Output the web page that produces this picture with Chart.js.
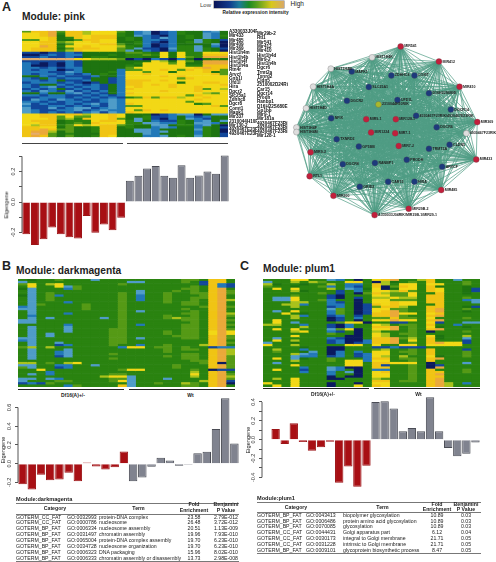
<!DOCTYPE html>
<html>
<head>
<meta charset="utf-8">
<title>Modules</title>
<script src="https://cdn.jsdelivr.net/npm/chart.js@4/dist/chart.umd.js"></script>
<style>
  body { margin: 0; background: #fff; font-family: "Liberation Sans", Arial, sans-serif; color: #222; }
  #page { position: relative; width: 496px; height: 562px; overflow: hidden; }
  canvas, .t, .rule { position: absolute; }
  .t { white-space: nowrap; line-height: 1; }
  .heat { filter: blur(0.35px); }
</style>
</head>
<body>
<div id="page"></div>
<script>
// sample groups, same for the three modules
const samples = ['D1','D2','D3','D4','D5','D6','D7','D8','D9','D10','D11','D12','W1','W2','W3','W4','W5','W6','W7','W8','W9','W10','W11','W12']

// eigengene per sample
const pinkEigen = [-0.212,-0.283,-0.244,-0.168,-0.212,-0.232,-0.24,-0.091,-0.202,-0.147,-0.186,-0.103,0.139,0.172,0.22,0.236,0.172,0.16,0.242,0.16,0.174,0.2,0.186,0.305]
const magentaEigen = [-0.22,-0.277,-0.118,-0.177,-0.17,-0.098,-0.187,0.013,-0.03,-0.062,-0.039,0.131,-0.187,-0.148,-0.033,0.062,0.033,-0.023,-0.013,0.111,0.128,0.37,0.7,0.216]
const plumEigen = [-0.006,0.113,-0.045,0.175,-0.026,-0.117,-0.081,-0.023,-0.457,-0.285,-0.5,-0.276,0.4,0.408,0.33,0.09,0.123,0.088,0.45,0.09,-0.088,-0.175,-0.149,-0.03]

// heatmap levels, one character per sample: 0 navy ... 5 green ... 8 yellow ... b tan
const levelColors = { 0:'#0b1a5e', 1:'#12479a', 2:'#2278b8', 3:'#4f9cc8', 4:'#1e7410', 5:'#2a8310', 6:'#559a16', 7:'#a9c21c', 8:'#f2d816', 9:'#f0c414', a:'#eaa93a', b:'#e4ac6e' }

const pinkRows = [
'699a69 978886 423012 544234','889a59 978885 423012 544324','889a49 989995 432102 454325','888945 989994 542132 454324','668944 699884 542212 443541',
'889967 889884 452102 453540','889946 888996 452012 444430','88a958 898887 542012 553420','899946 999886 531103 553541','899957 988886 342102 553540',
'110112 144444 665484 855888','001212 244454 556584 855999','112112 145544 554484 865aaa','bbbbbb 887776 010210 240454','111112 144444 444874 864aaa',
'210102 144444 458886 844aaa','200102 144444 548888 855999','221212 244444 688888 889a99','212201 244442 668898 698996','222113 244452 886884 888946',
'212212 124542 889888 888896','442121 112442 888898 988888','214212 214412 888888 698888','221241 124412 999898 888888','122212 101412 998888 488998',
'214421 212142 998989 888889','212312 122142 898889 889888','121241 212142 988888 889687','213213 121242 888898 889888','442442 312142 988888 888768',
'221221 121212 888888 869888','112221 212121 569699 788988','132132 121232 888888 889888','221212 211232 888888 868888','312112 123132 988888 885688',
'211221 212132 668888 888896','311312 331232 888888 888888','321122 312322 869898 888888','321212 123132 988888 888888','889989 978898 444012 330433',
'889968 668898 445112 421244','888967 598896 435102 432144','899945 558998 534211 542343','889945 659888 553322 543324','879956 878996 544334 552340',
'998846 445994 544232 442541','99a966 445994 433244 443540','9aa746 445994 433234 442540','9ba645 444994 443244 442541','9a9646 445984 442234 543541'
]
const magentaRows = [
'545565 553555 555555 665995','355555 555555 335555 651995','685785 555556 555555 551921','585583 655555 555555 565921','435552 655555 555555 6659a5','535555 555555 535556 5659a6',
'535655 555556 535565 5669a6','435625 555556 525565 5569a5','535655 555556 525565 5669a5','535655 555556 525565 5659a7','535552 555556 555565 6659a5','536555 565556 555555 6659a5',
'235555 565556 555555 5569a6','335555 565556 555555 6559a5','535555 555556 535555 5659a5','535552 555556 555555 6659a7','525555 555556 555565 5659a6','535355 555356 555567 6659a5',
'335555 555556 555555 6659a6','335555 555556 555555 5659a5','555552 555556 525555 6659a6','535553 555556 555555 6659a5','535553 555566 555555 6659a6','535553 555566 555565 6658a8',
'535355 555566 555565 6658a8','535355 555566 555556 6659a6','335555 555566 535555 6659a6','235555 555566 555555 5559a5','535535 555566 555555 5559a6','535512 555565 525565 5579a5',
'675755 555552 885665 655122','535553 555555 555565 6659a7','535523 555555 555565 5559a7','535523 555565 555555 6659a7','535513 555555 555565 6659a6','535555 555565 555555 6659a6',
'555555 555555 555555 5669a6','775657 855555 555555 556906','335522 553555 555556 5559a6','635512 555555 555556 5559a6','558555 555556 885555 565011','555255 555555 555555 5759a5',
'535255 555566 555555 5859a6','555555 555788 355555 5759a7','335325 555566 355535 5559a6','355566 555568 355555 5579a1','121655 555555 355655 7659a0','555552 655559 355555 6659a5'
]
const plumRows = [
'555885 532505 89a557 955355','355757 655885 074565 955565','745545 575225 975885 885565','655455 625215 906985 945545','585855 575324 804885 985541','555745 551525 887965 985541',
'555555 651506 976685 595545','555655 510555 886685 995555','533855 510515 778775 995565','533855 625505 886665 995523','555775 521505 889885 995553','557725 522501 989885 595555',
'555755 512501 699755 995541','555555 536501 886655 9a5565','535855 526501 89a655 9a5545','558545 526501 99a885 895555','555725 512515 99a655 9a5555','555755 501525 669665 855565',
'585555 501505 88a885 9a5555','585355 556880 551155 815533','775525 510255 875665 955255','555575 510255 99a565 845545','585855 536805 88a565 9a5555','555785 521505 755565 055565',
'555555 565505 875665 555555','555855 555005 875565 845575','535555 521005 99a675 945535','585755 512002 99a585 955515','355455 512012 99a565 9a8815','855755 555885 855885 888855',
'555545 500555 112111 555555','575525 500555 675565 955515','565543 502525 885665 955565','555732 502512 885565 955565','555322 512512 875755 845565','585345 565552 995665 9a5555',
'555755 565882 885565 955555','535555 555885 998885 055535','555855 555885 915565 015555','555525 532005 995565 0a5555','585515 532505 225565 955565','555525 525305 895565 995565',
'555555 525505 885565 9a5555','555555 505005 885565 995555','575855 500555 765565 9a5555','555855 555555 995665 9a5555','855855 505505 885555 9a7525','585855 505585 985555 9a7555'
]

const pinkGenesLeft = ['A330033J04Rik','Mir433','Mir485','Mir409','Mir369','Hist1h4m','Hist1h4b','Hist1h4f','Hist1h4a','Rtn4r','Arvcf','Gnb1l','Ufd1l','Hira','Dgcr2','Slc25a1','Zdhhc8','Dgcr8','Comt1','Mapk1','Mir337','2310044H10Rik','Mir130-2','4930467E23Rik','4930467E23Rik']
const pinkGenesRight = ['Mir29b-2','Rtl1','Mir541','Mir412','Mir410','Hist1h4d','Mir9-2','Hist1h4h','Dgcr6','Trmt2a','Txnrd2','Cldn5','2510002D24Rik','Car15','Dgcr14','Prodh','Ranbp1','D16H22S680E','Gp1bb','Mir9-1','Mir181a','4930467F23Rik','4930467F23Rik','4930467F23Rik','Mir128-1']

// network layout units, kind: r red, b blue, w white, g green
const netNames = ['MIR541','MIR412','MIR410','MIR369','MIR433','MIR485','MIR29B-2','A330033J04RIK/MIR29B-1/MIR29-1','MIR300','RTL1','MIR9-2','HIST1H4K','HIST1H4B','HIST1H4A','HIST1H4D','HIST1H4F','HIST1H4M','4930467F23RIK','MIR9-1','MIR128-1','MIR1224','MIR7-1','MIR7-2','2310044H10RIK','MAPK1','ZDHHC8','COMT','SLC25A1','D16H22S680E','DGCR2','UFD1L','DGCR14','4930467F23RIK/4930467E23RIK','NFIX','DGCR6','TXNRD2','GP1BB','TRMT2A','CLDN5','DGCR8','RANBP1','PRODH','ARVCF','CAR15','HIRA','GRID2']
const netX = [455,574,638,693,690,581,480,374,246,172,175,366,238,183,161,131,131,659,348,440,363,438,449,386,303,426,498,356,543,288,445,611,503,239,567,256,325,543,607,275,375,474,584,416,498,328]
const netY = [131,178,256,366,482,577,635,655,595,534,460,165,200,256,323,383,397,401,357,357,398,401,440,311,209,221,221,257,276,300,297,327,346,354,382,419,442,449,436,497,493,483,505,551,551,567]
const netKinds = 'rrrrrrrrrrrwwwwwwwrrrrrgbbbbbbbbbbbbbbbbbbbbbb'

// functional annotation tables
const magentaTable = [
  ['GOTERM_CC_FAT','GO:0032993','protein-DNA complex','23.58','2.79E-012'],
  ['GOTERM_CC_FAT','GO:0000786','nucleosome','26.48','3.72E-012'],
  ['GOTERM_BP_FAT','GO:0006334','nucleosome assembly','20.51','1.13E-009'],
  ['GOTERM_BP_FAT','GO:0031497','chromatin assembly','19.96','7.93E-010'],
  ['GOTERM_BP_FAT','GO:0065004','protein-DNA complex assembly','19.70','6.23E-010'],
  ['GOTERM_BP_FAT','GO:0034728','nucleosome organization','19.70','6.23E-010'],
  ['GOTERM_BP_FAT','GO:0006323','DNA packaging','15.96','8.02E-010'],
  ['GOTERM_BP_FAT','GO:0006333','chromatin assembly or disassembly','13.73','2.98E-008']
]
const plumTable = [
  ['GOTERM_BP_FAT','GO:0043413','biopolymer glycosylation','10.89','0.03'],
  ['GOTERM_BP_FAT','GO:0006486','protein amino acid glycosylation','10.89','0.03'],
  ['GOTERM_BP_FAT','GO:0070085','glycosylation','10.89','0.03'],
  ['GOTERM_CC_FAT','GO:0044431','Golgi apparatus part','6.12','0.04'],
  ['GOTERM_CC_FAT','GO:0030173','integral to Golgi membrane','21.71','0.05'],
  ['GOTERM_CC_FAT','GO:0031228','intrinsic to Golgi membrane','21.71','0.05'],
  ['GOTERM_BP_FAT','GO:0009101','glycoprotein biosynthetic process','8.47','0.05']
]

const page = document.getElementById('page')

function text(str, x, y, size, opts) {
  const el = document.createElement('div')
  el.className = 't'
  el.textContent = str
  el.style.left = x + 'px'
  el.style.top = y + 'px'
  el.style.fontSize = size + 'px'
  if (opts) Object.assign(el.style, opts)
  page.appendChild(el)
  return el
}

function rule(x1, x2, y, h, color) {
  const el = document.createElement('div')
  el.className = 'rule'
  el.style.cssText = 'left:' + x1 + 'px;top:' + y + 'px;width:' + (x2 - x1) + 'px;height:' + h + 'px;background:' + color
  page.appendChild(el)
}

function addCanvas(x, y, w, h, cls) {
  const c = document.createElement('canvas')
  c.width = w
  c.height = h
  c.style.cssText = 'left:' + x + 'px;top:' + y + 'px;width:' + w + 'px;height:' + h + 'px'
  if (cls) c.className = cls
  page.appendChild(c)
  return c
}

// heatmap = horizontal stacked bars, one dataset per sample column
function heatmap(x, y, plotW, h, rows, extraW, genes) {
  const cells = rows.map(r => r.replace(/ /g, ''))
  const scales = {
    x: { stacked: true, display: false, min: 0, max: samples.length },
    y: { stacked: true, display: false, grid: { display: false } }
  }
  if (genes) {
    const tickFont = { family: 'Liberation Sans', size: 4.6, weight: 'bold' }
    scales.y = {
      stacked: true, position: 'right',
      grid: { display: false, drawTicks: false }, border: { display: false },
      afterFit: s => { s.width = 29 },
      ticks: { autoSkip: false, padding: 1, color: '#111', font: tickFont, callback: (v, i) => i % 2 ? '' : genes[i] }
    }
    scales.y2 = {
      type: 'category', labels: genes, offset: true, position: 'right',
      grid: { display: false, drawTicks: false }, border: { display: false },
      afterFit: s => { s.width = extraW - 29 },
      ticks: { autoSkip: false, padding: 0, color: '#111', font: tickFont, callback: (v, i) => i % 2 ? genes[i] : '' }
    }
  }
  new Chart(addCanvas(x, y, plotW + extraW, h, 'heat'), {
    type: 'bar',
    data: {
      labels: genes || cells.map((r, i) => 'row' + i),
      datasets: samples.map((s, c) => ({
        label: s,
        data: cells.map(() => 1),
        backgroundColor: cells.map(r => levelColors[r[c]]),
        borderWidth: 0,
        barPercentage: 1,
        categoryPercentage: 1
      }))
    },
    options: {
      indexAxis: 'y',
      responsive: false,
      animation: false,
      layout: { padding: 0 },
      plugins: { legend: { display: false }, tooltip: { enabled: false } },
      scales
    }
  })
}

// R style axis line that stops at the outer ticks
const axisLine = {
  id: 'axisLine',
  afterDraw(chart) {
    const s = chart.scales.y
    const t = s.ticks
    const ctx = chart.ctx
    ctx.save()
    ctx.strokeStyle = '#555'
    ctx.lineWidth = 1
    ctx.beginPath()
    ctx.moveTo(s.right, s.getPixelForValue(t[0].value))
    ctx.lineTo(s.right, s.getPixelForValue(t[t.length - 1].value))
    ctx.stroke()
    ctx.restore()
  }
}

function eigenBars(x, y, w, h, axisW, values, min, max, tickVals, labelled) {
  new Chart(addCanvas(x, y, w, h), {
    type: 'bar',
    data: {
      labels: samples,
      datasets: [{
        data: values,
        backgroundColor: samples.map((s, i) => i < 12 ? '#a80f14' : '#80838f'),
        borderColor: samples.map((s, i) => i < 12 ? '#9c1417' : '#4a4c55'),
        borderWidth: 1,
        barPercentage: 0.92,
        categoryPercentage: 1
      }]
    },
    plugins: [axisLine],
    options: {
      responsive: false,
      animation: false,
      layout: { padding: 0 },
      plugins: { legend: { display: false }, tooltip: { enabled: false } },
      scales: {
        x: { display: false },
        y: {
          min, max,
          afterFit: s => { s.width = axisW },
          afterBuildTicks: s => { s.ticks = tickVals.map(v => ({ value: v })) },
          grid: { drawOnChartArea: false, drawTicks: true, tickLength: 3, color: '#555' },
          border: { display: false },
          title: { display: false },
          ticks: {
            autoSkip: false, minRotation: 90, maxRotation: 90, crossAlign: 'center', padding: 1,
            color: '#333', font: { family: 'Liberation Sans', size: 5.5 },
            callback: v => labelled.includes(v) ? v.toFixed(1) : ''
          }
        }
      }
    }
  })
}

function network(x, y, w, h) {
  const nodes = netX.map((nx, i) => ({ x: nx, y: netY[i] }))
  const edges = []
  nodes.forEach((a, i) => nodes.slice(i + 1).forEach(b => edges.push(a, b, { x: NaN, y: NaN })))
  const kindColor = { r: '#c21f3c', b: '#1d3a7c', w: '#dedede', g: '#a8b82c' }
  const nodeText = {
    id: 'nodeText',
    afterDatasetsDraw(chart) {
      const ctx = chart.ctx
      ctx.save()
      ctx.font = 'bold 3.6px "Liberation Sans"'
      ctx.fillStyle = '#222'
      ctx.textBaseline = 'middle'
      chart.getDatasetMeta(1).data.forEach((p, i) => ctx.fillText(netNames[i], p.x + 3.5, p.y))
      ctx.restore()
    }
  }
  new Chart(addCanvas(x, y, w, h, 'heat'), {
    type: 'scatter',
    data: {
      datasets: [
        { data: edges, order: 2, showLine: true, pointRadius: 0, borderColor: '#4f9c84', borderWidth: 0.7, spanGaps: false },
        { data: nodes, order: 1, pointRadius: 3, pointBorderWidth: 0.3, pointBorderColor: '#555', pointBackgroundColor: nodes.map((n, i) => kindColor[netKinds[i]]) }
      ]
    },
    plugins: [nodeText],
    options: {
      responsive: false,
      animation: false,
      layout: { padding: 0 },
      plugins: { legend: { display: false }, tooltip: { enabled: false } },
      scales: {
        x: { display: false, min: 0, max: 738 },
        y: { display: false, min: 0, max: 750, reverse: true }
      }
    }
  })
}

function annotTable(rows, title, x, titleY, top, headBottom, firstRow, step, bottom, right, cols) {
  text(title, x, titleY - 3, 5.6, { fontWeight: 'bold' })
  rule(x, right, top, 1, '#777')
  rule(x, right, headBottom, 1, '#777')
  rule(x, right, bottom, 1, '#777')
  const head = { fontWeight: 'bold', transform: 'translateX(-50%)', textAlign: 'center' }
  text('Category', cols[0] + 39, top + 3.2, 5.2, head)
  text('Term', cols[2] + 39.5, top + 3.2, 5.2, head)
  text('Fold', cols[3], top - 0.1, 5.2, head)
  text('Enrichment', cols[3], top + 5.4, 5.2, head)
  text('Benjamini', cols[4], top - 0.1, 5.2, head)
  text('P Value', cols[4], top + 5.4, 5.2, head)
  const mid = { transform: 'translateX(-50%)' }
  rows.forEach((r, i) => {
    const ty = firstRow + i * step - 2.2
    text(r[0], cols[0], ty, 5.2)
    text(r[1], cols[1], ty, 5.2)
    text(r[2], cols[2], ty, 5.2)
    text(r[3], cols[3], ty, 5.2, mid)
    text(r[4], cols[4], ty, 5.2, mid)
  })
}

// panel letters and titles
text('A', 2, 1, 12.5, { fontWeight: 'bold' })
text('B', 2, 260, 12.5, { fontWeight: 'bold' })
text('C', 240, 260, 12.5, { fontWeight: 'bold' })
text('Module: pink', 22, 11.5, 10.2, { fontWeight: 'bold' })
text('Module: darkmagenta', 16, 265.5, 10.2, { fontWeight: 'bold' })
text('Module: plum1', 263, 263.5, 10.2, { fontWeight: 'bold' })

// colour key
text('Low', 200, 1.5, 6, { color: '#444' })
text('High', 290.5, 1, 6.5, { color: '#222' })
text('Relative expression intensity', 222.5, 11, 4.8, { fontWeight: 'bold' })
const key = document.createElement('div')
key.className = 'rule'
key.style.cssText = 'left:214px;top:1px;width:70px;height:7px;background:linear-gradient(90deg,#0a1458 0%,#123a8c 22%,#1d7a9a 36%,#1c8a22 50%,#5aa01e 62%,#d8c81c 82%,#d8a868 100%);box-shadow:0 0 0 0.5px #777'
page.appendChild(key)

// panel A
heatmap(22, 27, 206, 114, pinkRows, 60, pinkGenesLeft.flatMap((g, i) => [g, pinkGenesRight[i]]))
rule(22, 123, 142.7, 1.3, '#444')
rule(127, 228, 142.7, 1.3, '#444')
eigenBars(0, 149, 229, 103, 22, pinkEigen, -0.3, 0.32, [0.3, 0.2, 0.1, 0, -0.1, -0.2], [0.2, 0, -0.2])
text('Eigengene', 6.5, 205, 5.6, { transform: 'translate(-50%,-50%) rotate(-90deg)' })
network(250, 0, 246, 250)

// panel B
heatmap(18, 278.7, 217, 108.3, magentaRows, 0)
rule(18, 124, 388.6, 1, '#222')
rule(129, 235, 388.6, 1, '#222')
text('Df16(A)+/-', 73, 392.5, 5, { fontWeight: 'bold', transform: 'translateX(-50%)' })
text('Wt', 190.5, 392.5, 5, { fontWeight: 'bold', transform: 'translateX(-50%)' })
eigenBars(0, 392, 239, 104, 18, magentaEigen, -0.3, 0.72, [0.6, 0.4, 0.2, 0, -0.2], [0.6, 0.4, 0.2, 0, -0.2])
text('Eigengene', 3.5, 450, 5.6, { transform: 'translate(-50%,-50%) rotate(-90deg)' })
annotTable(magentaTable, 'Module:darkmagenta', 16, 500, 502.5, 513.5, 516.7, 5.95, 560.5, 239, [16, 67, 99, 194, 226])

// panel C
heatmap(263, 278.7, 217, 108, plumRows, 0)
rule(263, 369, 388, 1, '#222')
rule(374, 480, 388, 1, '#222')
text('Df16(A)+/-', 323, 391.5, 5, { fontWeight: 'bold', transform: 'translateX(-50%)' })
text('Wt', 418.5, 391.5, 5, { fontWeight: 'bold', transform: 'translateX(-50%)' })
eigenBars(246, 392, 234, 101, 16, plumEigen, -0.52, 0.46, [0.4, 0.3, 0.2, 0.1, 0, -0.1, -0.2, -0.3, -0.4], [0.4, 0.2, 0, -0.2, -0.4])
text('Eigengene', 249, 440, 5.6, { transform: 'translate(-50%,-50%) rotate(-90deg)' })
annotTable(plumTable, 'Module:plum1', 257, 498.5, 502, 512.3, 515, 5.83, 553, 481, [257, 306, 343, 437, 466])
</script>
</body>
</html>
